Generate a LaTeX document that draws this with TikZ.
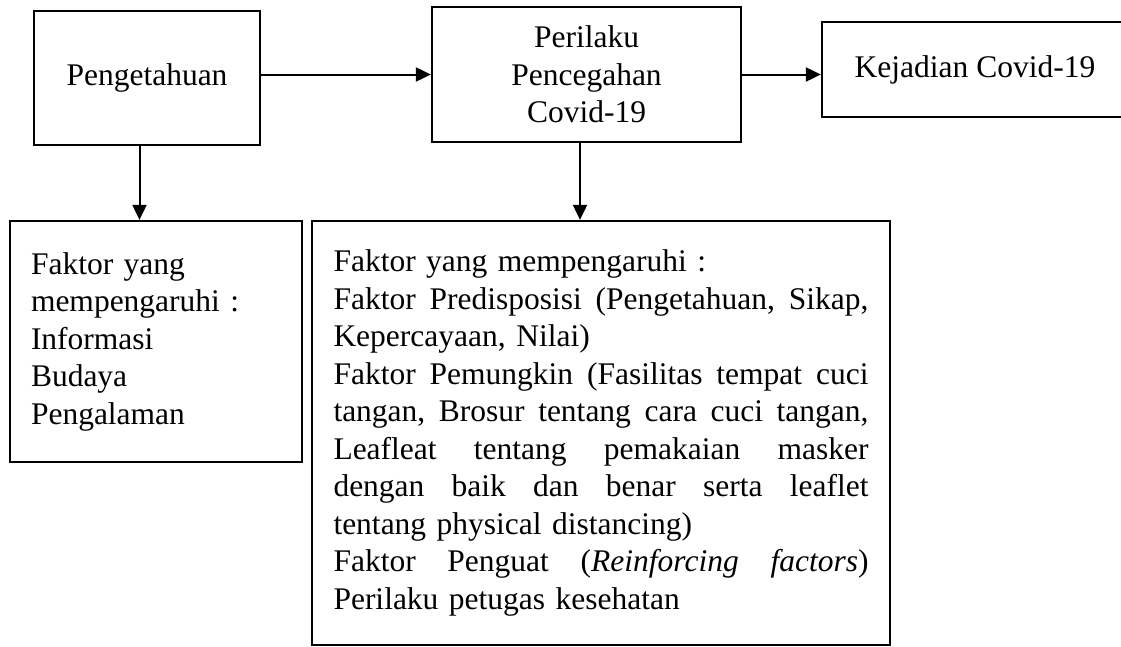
\documentclass[tikz,border=0pt]{standalone}
\usepackage{fontspec}
\setmainfont{Liberation Serif}
\usetikzlibrary{arrows.meta,calc}
\newcommand\JLine[1]{\leavevmode\hbox to 535pt{#1}}
\newcommand\LLine[1]{\leavevmode\hbox to 535pt{#1\hfil}}
\newcommand\jsp{ \hfill}
\begin{document}
\begin{tikzpicture}[x=1pt,y=-1pt,
  txt/.style={font=\fontsize{31.5}{37.5}\selectfont},
  box/.style={draw, line width=2.3pt, rectangle, txt, inner sep=0pt},
  arr/.style={line width=2pt, -{Triangle[length=15pt,width=14pt]}}]
\useasboundingbox[fill=white] (0,0) rectangle (1121,646);
\node[box, minimum width=226pt, minimum height=134pt] (box1) at (147,78) {Pengetahuan};
\node[box, minimum width=309pt, minimum height=135pt, align=center] (box2) at (586.5,74.5) {Perilaku\\Pencegahan\\Covid-19};
\node[box, minimum width=306pt, minimum height=95pt] (kej) at (975,69.5) {Kejadian Covid-19};
\node[box, minimum width=292pt, minimum height=241pt, text width=250pt, inner xsep=21pt, align=left] (fleft) at (156,341.5)
  {Faktor yang\\mempengaruhi :\\Informasi\\Budaya\\Pengalaman};
\node[box, minimum width=578pt, minimum height=424pt, text width=535pt, inner xsep=21.5pt, align=left] (fbig) at (601,433)
  {\LLine{Faktor yang mempengaruhi :}\\
   \JLine{Faktor\jsp Predisposisi\jsp (Pengetahuan,\jsp Sikap,}\\
   \LLine{Kepercayaan, Nilai)}\\
   \JLine{Faktor\jsp Pemungkin\jsp (Fasilitas\jsp tempat\jsp cuci}\\
   \JLine{tangan,\jsp Brosur\jsp tentang\jsp cara\jsp cuci\jsp tangan,}\\
   \JLine{Leafleat\jsp tentang\jsp pemakaian\jsp masker}\\
   \JLine{dengan\jsp baik\jsp dan\jsp benar\jsp serta\jsp leaflet}\\
   \LLine{tentang physical distancing)}\\
   \JLine{Faktor\jsp Penguat\jsp (\textit{Reinforcing}\jsp \textit{factors})}\\
   \LLine{Perilaku petugas kesehatan}};
\draw[arr] (box1.east |- box2.west) -- (box2.west);
\draw[arr] (box2.east) -- (box2.east -| kej.west);
\draw[arr] ([xshift=-7.5pt]box1.south) -- ([xshift=-7.5pt]box1.south |- fleft.north);
\draw[arr] ([xshift=-6.5pt]box2.south) -- ([xshift=-6.5pt]box2.south |- fbig.north);
\end{tikzpicture}
\end{document}
